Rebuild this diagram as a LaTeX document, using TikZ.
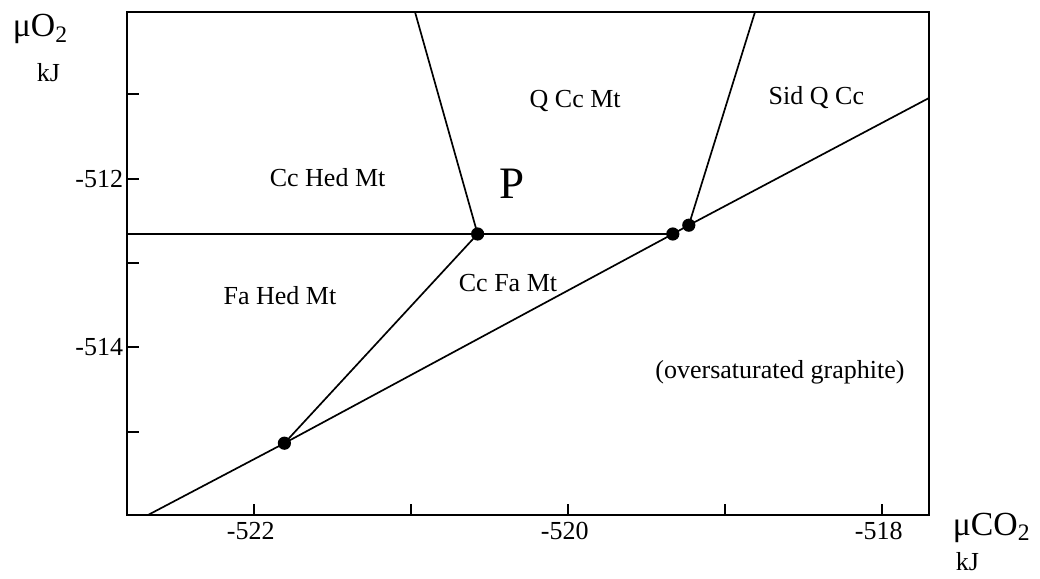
\documentclass[tikz,border=0pt]{standalone}
\usepackage{fontspec}
\setmainfont{Liberation Serif}
\usepackage{tikz}

\begin{document}
\begin{tikzpicture}[x=1cm,y=1cm,line width=1.2pt,
  every node/.style={font=\fontsize{18.5}{22}\selectfont,inner sep=0pt},
  dot/.style={circle,fill=black,minimum size=0.33cm},
  axlbl/.style={font=\fontsize{24}{28}\selectfont,anchor=base west}]
\useasboundingbox (0,0) rectangle (26,14.45);
\draw (3.175,1.575) rectangle (23.225,14.15);
\draw (3.175,12.1) -- (3.475,12.1);
\draw (3.175,9.975) -- (3.475,9.975);
\draw (3.175,7.875) -- (3.475,7.875);
\draw (3.175,5.775) -- (3.475,5.775);
\draw (3.175,3.65) -- (3.475,3.65);
\draw (6.35,1.575) -- (6.35,1.85);
\draw (10.275,1.575) -- (10.275,1.85);
\draw (14.2,1.575) -- (14.2,1.85);
\draw (18.125,1.575) -- (18.125,1.85);
\draw (22.05,1.575) -- (22.05,1.85);
\node[anchor=east] at (3.1,9.975) {-512};
\node[anchor=east] at (3.1,5.775) {-514};
\node[anchor=base] at (6.27,0.975) {-522};
\node[anchor=base] at (14.12,0.975) {-520};
\node[anchor=base] at (21.97,0.975) {-518};
\node[axlbl] at (0.3,13.525) {μO\textsubscript{2}};
\node[anchor=base west] at (0.9,12.4) {kJ};
\node[axlbl] at (23.8,1.075) {μCO\textsubscript{2}};
\node[anchor=base west] at (23.875,0.2) {kJ};
% invariant points
\node[dot] (P) at (11.94,8.6) {};
\node[dot] (A) at (16.82,8.6) {};
\node[dot] (B) at (17.22,8.82) {};
\node[dot] (C) at (7.11,3.37) {};
\coordinate (topL) at (10.375,14.15);
\coordinate (topR) at (18.875,14.15);
\coordinate (left) at (3.175,8.6);
\coordinate (bot) at (3.7,1.575);
\coordinate (right) at (23.225,12.0);
% reaction lines
\draw (topL) -- (P.center);
\draw (left) -- (A.center);
\draw (P.center) -- (C.center);
\draw (bot) -- (C.center) -- (A.center) -- (B.center) -- (right);
\draw (B.center) -- (topR);
% fields
\node[anchor=base] at (8.19,9.775) {Cc Hed Mt};
\node[anchor=base] at (14.38,11.75) {Q Cc Mt};
\node[anchor=base] at (20.41,11.825) {Sid Q Cc};
\node[anchor=base,font=\fontsize{32}{36}\selectfont] at (12.79,9.475) {P};
\node[anchor=base] at (7.0,6.85) {Fa Hed Mt};
\node[anchor=base] at (12.7,7.175) {Cc Fa Mt};
\node[anchor=base] at (19.5,5.0) {(oversaturated graphite)};
\end{tikzpicture}
\end{document}
